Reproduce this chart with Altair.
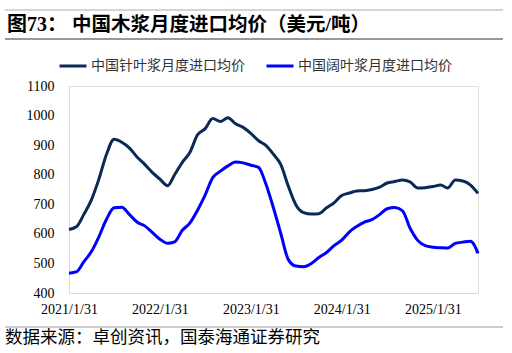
import altair as alt
import pandas as pd

title_prefix = "图73："
title_text = "中国木浆月度进口均价（美元/吨）"
source_text = "数据来源：卓创资讯，国泰海通证券研究"
series_names = ["中国针叶浆月度进口均价", "中国阔叶浆月度进口均价"]

months = [f"{y}-{m:02d}" for y in range(2021, 2026) for m in range(1, 13)][:55]

softwood = [615, 625, 665, 715, 785, 870, 920, 910, 890, 860, 835, 808,
            785, 763, 800, 842, 875, 935, 955, 990, 980, 993, 972, 960,
            940, 915, 900, 870, 835, 760, 698, 672, 667, 668, 688, 705,
            730, 738, 745, 746, 750, 758, 772, 777, 782, 776, 755, 756,
            760, 765, 755, 782, 779, 765, 737]
hardwood = [467, 472, 505, 540, 590, 650, 688, 690, 665, 640, 627, 605,
            582, 568, 573, 612, 636, 680, 730, 790, 812, 830, 843, 840,
            832, 825, 772, 690, 602, 512, 491, 489, 500, 520, 537, 560,
            579, 607, 625, 640, 648, 665, 685, 689, 678, 620, 578, 560,
            555, 553, 552, 568, 572, 575, 534]

y_ticks = [400, 500, 600, 700, 800, 900, 1000, 1100]
x_tick_years = [2021, 2022, 2023, 2024, 2025]

df = pd.DataFrame({
    "date": months * 2,
    "value": softwood + hardwood,
    "series": [series_names[0]] * len(months) + [series_names[1]] * len(months),
})

serif = "Liberation Serif"
cjk = "Noto Sans CJK SC"

lines = alt.Chart(df).mark_line(strokeWidth=3, interpolate="monotone").encode(
    x=alt.X("date:T",
            scale=alt.Scale(type="utc", nice=False,
                            domain=[alt.DateTime(year=2021, month=1, date=1, utc=True),
                                    alt.DateTime(year=2025, month=7, date=1, utc=True)]),
            axis=alt.Axis(title=None, values=[alt.DateTime(year=yy, month=1, date=1, utc=True) for yy in x_tick_years],
                          labelExpr="utcFormat(datum.value, '%Y') + '/1/31'",
                          ticks=False, grid=False, domainColor="#d9d9d9",
                          labelFont=serif, labelFontSize=14, labelColor="#000000",
                          labelPadding=9, labelFlush=False)),
    y=alt.Y("value:Q",
            scale=alt.Scale(domain=[400, 1100], nice=False, zero=False),
            axis=alt.Axis(title=None, values=y_ticks, format="d", ticks=False, grid=False,
                          domainColor="#d9d9d9", labelFont=serif, labelFontSize=14,
                          labelColor="#000000", labelPadding=15)),
    color=alt.Color("series:N",
                    scale=alt.Scale(domain=series_names, range=["#0c2857", "#0000ff"]),
                    legend=alt.Legend(title=None, orient="none", legendX=-11, legendY=-35,
                                      direction="horizontal", symbolType="stroke",
                                      symbolSize=729, symbolStrokeWidth=3,
                                      labelFont=cjk, labelFontSize=14, labelColor="#333333",
                                      labelLimit=400, columnPadding=15, labelOffset=3,
                                      padding=0)),
)

one = pd.DataFrame({"t": [title_text]})

title_a = alt.Chart(pd.DataFrame({"t": [title_prefix]})).mark_text(
    align="left", baseline="middle", font=f"{serif}, {cjk}", fontSize=20,
    fontWeight="bold", color="#000000"
).encode(text="t:N", x=alt.value(-62), y=alt.value(-61))

title_b = alt.Chart(pd.DataFrame({"t": [title_text]})).mark_text(
    align="left", baseline="middle", font=f"{serif}, {cjk}", fontSize=19.5,
    fontWeight="bold", color="#000000"
).encode(text="t:N", x=alt.value(3), y=alt.value(-61))

source = alt.Chart(pd.DataFrame({"t": [source_text]})).mark_text(
    align="left", baseline="middle", font=cjk, fontSize=17.5, color="#000000"
).encode(text="t:N", x=alt.value(-64), y=alt.value(252))

top_rule = alt.Chart(one).mark_rule(color="#aaaaaa", strokeWidth=1).encode(
    x=alt.value(-64), x2=alt.value(434), y=alt.value(-76))
title_rule = alt.Chart(one).mark_rule(color="#333333", strokeWidth=1).encode(
    x=alt.value(-64), x2=alt.value(434), y=alt.value(-47))
bottom_rule = alt.Chart(one).mark_rule(color="#999999", strokeWidth=1).encode(
    x=alt.value(-64), x2=alt.value(434), y=alt.value(241))

chart = alt.layer(lines, title_a, title_b, source, top_rule, title_rule, bottom_rule).properties(
    width=409, height=207,
    autosize=alt.AutoSizeParams(type="none"),
    padding={"left": 69, "top": 86, "right": 34, "bottom": 60},
).configure_view(stroke=None).configure(background="white")

chart.save("out.html", embed_options={"renderer": "svg", "actions": False})
